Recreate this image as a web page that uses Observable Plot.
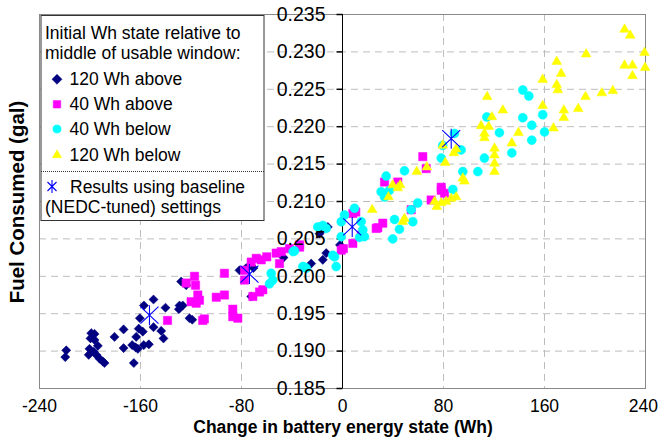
<!DOCTYPE html>
<html><head><meta charset="utf-8">
<script src="https://cdn.jsdelivr.net/npm/d3@7"></script>
<script src="https://cdn.jsdelivr.net/npm/@observablehq/plot@0.6"></script>
<style>body{margin:0;background:#fff}#chart{width:658px;height:439px}</style>
</head><body><div id="chart"></div>
<script>
// Series: [change in battery energy (Wh), fuel consumed (gal)]
const above120 = [[-218.8,0.1901],[-219.6,0.1892],[-199,0.1924],[-196.4,0.1923],[-199.6,0.1917],[-196.4,0.1915],[-200.4,0.1903],[-201,0.1895],[-197,0.1899],[-193.8,0.1907],[-195,0.1895],[-192.5,0.1890],[-189.8,0.1886],[-188.5,0.1884],[-180.6,0.1919],[-173.4,0.1929],[-173.4,0.1904],[-165.3,0.1884],[-166.6,0.1908],[-163.9,0.1905],[-162.1,0.1903],[-163.4,0.1919],[-161.4,0.1930],[-158.2,0.1926],[-157.4,0.1908],[-153.4,0.1909],[-160.5,0.1944],[-157.3,0.1961],[-149.7,0.1969],[-149.7,0.1932],[-143.6,0.1927],[-141.8,0.1917],[-140.2,0.1958],[-129.1,0.1961],[-129.6,0.1956],[-126.5,0.1961],[-121.2,0.1944],[-119,0.1942],[-127.8,0.1993],[-123.8,0.1988],[-81.6,0.2008],[-76.3,0.2011],[-70.5,0.2011],[-72.3,0.1973],[-46.7,0.2025],[-24.8,0.2017],[-15.6,0.2022],[-12.9,0.2031],[-15.6,0.2063],[-18.2,0.2057],[-11.6,0.2066],[-2,0.2042]];
const above40 = [[-117.2,0.2000],[-116.4,0.1988],[-123.8,0.1991],[-119.9,0.1966],[-115.9,0.1964],[-138.6,0.1941],[-114.6,0.1975],[-113.3,0.1968],[-110.7,0.1941],[-109.4,0.1943],[-100,0.1972],[-93.5,0.1975],[-93.5,0.2004],[-86.9,0.1956],[-86.9,0.1946],[-82.9,0.1944],[-77.6,0.2008],[-72.3,0.2019],[-68.3,0.2024],[-64.4,0.2022],[-60,0.2026],[-52.5,0.2031],[-48.5,0.2033],[-49.9,0.2017],[-42,0.2037],[-34,0.2039],[-63.1,0.1982],[-65.7,0.1979],[-71,0.1973],[-77.6,0.1995],[-1,0.2035],[0.7,0.2037],[8.2,0.2044],[8.2,0.2084],[10.5,0.2086],[14.8,0.2055],[26.7,0.2064],[31.9,0.2071],[28,0.2065],[54.4,0.2089],[33.3,0.2126],[43.8,0.2126],[63.6,0.2160],[66.3,0.2144],[70.2,0.2102],[78.2,0.2115],[80.8,0.2111],[78.2,0.2119],[-34,0.2042]];
const below40 = [[-55.2,0.1995],[-57.8,0.1990],[-56.5,0.2004],[-39.1,0.2033],[-31.4,0.2013],[-30.1,0.2012],[-28.7,0.2011],[-19.6,0.2066],[-15.6,0.2068],[-12.9,0.2064],[-7.7,0.2028],[-6.3,0.2026],[-5,0.2013],[-1,0.2073],[1.6,0.2082],[-1,0.2053],[9.5,0.2091],[14.8,0.2073],[16.1,0.2062],[13.5,0.2052],[17.4,0.2053],[34.6,0.2134],[30.6,0.2113],[33.3,0.2106],[37.2,0.2115],[49.1,0.2141],[41.2,0.2076],[45.1,0.2063],[39.8,0.2050],[54.4,0.2089],[55.7,0.2073],[59.6,0.2098],[78.2,0.2158],[79.4,0.2175],[88.7,0.2191],[94,0.2169],[95.3,0.2140],[107.2,0.2140],[112.4,0.2158],[114.3,0.2213],[124.3,0.2192],[134.1,0.2165],[142.8,0.2249],[147.6,0.2241],[142.8,0.2212],[149.9,0.2202],[149.9,0.2182],[158.6,0.2216],[160,0.2193],[87.4,0.2116],[-38,0.2034]];
const below120 = [[23.5,0.2089],[36.4,0.2106],[39.8,0.2122],[43.8,0.2118],[45.7,0.2122],[49.1,0.2077],[47.8,0.2073],[58.8,0.2140],[66.8,0.2146],[72.9,0.2100],[74.7,0.2093],[78.2,0.2098],[82.1,0.2100],[86.1,0.2104],[90,0.2106],[79.4,0.2175],[81.4,0.2152],[88.2,0.2165],[90,0.2170],[95.3,0.2131],[96.6,0.2127],[109.8,0.2201],[112.4,0.2191],[112.4,0.2185],[115.8,0.2200],[114.6,0.2240],[118.3,0.2213],[127,0.2222],[120.4,0.2171],[120.4,0.2162],[120.4,0.2151],[120.4,0.2140],[134.1,0.2178],[139.4,0.2192],[158.6,0.2263],[158.6,0.2228],[167.1,0.2198],[169.7,0.2287],[173.2,0.2271],[169.7,0.2256],[170.5,0.2249],[175.3,0.2222],[175.3,0.2212],[186.7,0.2224],[192.5,0.2240],[193,0.2297],[205.4,0.2245],[214.1,0.2248],[223.4,0.2330],[227.9,0.2322],[223.4,0.2282],[229.7,0.2282],[229.7,0.2268],[239.2,0.2299],[239.7,0.2279]];
const baseline = [[-152.9,0.1948],[-73.7,0.2003],[7.7,0.2066],[86.1,0.2184]];

const xTicks = [-240,-160,-80,0,80,160,240];
const yTicks = [0.185,0.190,0.195,0.200,0.205,0.210,0.215,0.220,0.225,0.230,0.235];
const xGrid = [-160,-80,80,160];
const yGrid = [0.190,0.195,0.200,0.205,0.210,0.215,0.220,0.225,0.230];
const legendTitle = ["Initial Wh state relative to","middle of usable window:"];
const seriesNames = ["120 Wh above","40 Wh above","40 Wh below","120 Wh below"];
const baselineName = ["Results using baseline","(NEDC-tuned) settings"];
const xTitle = "Change in battery energy state (Wh)";
const yTitle = "Fuel Consumed (gal)";

const rows = a => a.map(([x,y]) => ({x,y}));
const tickSym = {draw(ctx){ctx.moveTo(-6,0);ctx.lineTo(0,0);}};
const starSym = {draw(ctx,size){const r=Math.sqrt(size/Math.PI);ctx.moveTo(0,-r);ctx.lineTo(0,r);const a=r*0.9,b=r*0.85;ctx.moveTo(-a,-b);ctx.lineTo(a,b);ctx.moveTo(-a,b);ctx.lineTo(a,-b);}};
const FONT = "'Liberation Sans', Arial, sans-serif";
const lastX = xTicks[xTicks.length-1];

const plot = Plot.plot({
  width:658, height:439, marginLeft:39, marginRight:13, marginTop:14, marginBottom:51,
  x:{domain:[-240,240], axis:null},
  y:{domain:[0.185,0.235], axis:null},
  style:{fontFamily:FONT, background:"white", overflow:"visible", color:"black"},
  marks:[
    Plot.ruleX(xGrid,{stroke:"#bdbdbd", strokeDasharray:"7,5"}),
    Plot.ruleY(yGrid,{stroke:"#bdbdbd", strokeDasharray:"7,5"}),
    Plot.frame({stroke:"#888"}),
    Plot.ruleX([0],{stroke:"black"}),
    Plot.dot(yTicks,{x:0, y:d=>d, symbol:tickSym, stroke:"black", fill:"none"}),
    Plot.dot(rows(above120),{x:"x", y:"y", symbol:"diamond2", r:4.1, fill:"#000080", stroke:"#000080", strokeWidth:0.5}),
    Plot.dot(rows(above40),{x:"x", y:"y", symbol:"square", r:4.7, fill:"#FF00FF", stroke:"#FF00FF", strokeWidth:0.5}),
    Plot.dot(rows(below40),{x:"x", y:"y", symbol:"circle", r:4.5, fill:"#00FFFF", stroke:"#00FFFF", strokeWidth:0.5}),
    Plot.dot(rows(below120),{x:"x", y:"y", symbol:"triangle", r:3.6, fill:"#FFFF00", stroke:"#FFFF00", strokeWidth:0.5}),
    Plot.dot(rows(baseline),{x:"x", y:"y", symbol:starSym, r:10, fill:"none", stroke:"#0000FF", strokeWidth:1.1}),
    Plot.text(yTicks,{x:0, y:d=>d, text:d=>d.toFixed(3), textAnchor:"end", dx:-17, fontSize:19.5, fill:"black"}),
    Plot.text(xTicks.filter(d=>d!==lastX),{x:d=>d, frameAnchor:"bottom", dy:23, lineAnchor:"bottom", text:d=>String(d), fontSize:17.5, fill:"black"}),
    Plot.text([lastX],{x:d=>d, frameAnchor:"bottom", dy:23, dx:12.5, textAnchor:"end", lineAnchor:"bottom", text:d=>String(d), fontSize:17.5, fill:"black"})
  ]
});
document.getElementById("chart").appendChild(plot);

const svg = d3.select(plot);
svg.append("text").attr("x",343).attr("y",433).attr("text-anchor","middle")
  .style("font-family",FONT).style("font-weight","bold").style("font-size","17.5px").attr("fill","black").text(xTitle);
svg.append("text").attr("transform","translate(24,202) rotate(-90)").attr("text-anchor","middle")
  .style("font-family",FONT).style("font-weight","bold").style("font-size","20.5px").attr("fill","black").text(yTitle);

// Legend
const lg = svg.append("g").attr("text-anchor","start").style("font-family",FONT).style("font-size","17.5px");
lg.append("rect").attr("x",41).attr("y",15.5).attr("width",223).attr("height",205).attr("fill","white").attr("stroke","#333");
lg.append("line").attr("x1",41).attr("x2",264).attr("y1",171.5).attr("y2",171.5).attr("stroke","#333").attr("stroke-dasharray","1,1");
legendTitle.forEach((t,i)=>lg.append("text").attr("x",45).attr("y",[39,58.5][i]).attr("fill","black").text(t));
const syms = [
  {type:d3.symbolDiamond2,size:64,color:"#000080",cy:79.3},
  {type:d3.symbolSquare,size:56,color:"#FF00FF",cy:104.3},
  {type:d3.symbolCircle,size:52,color:"#00FFFF",cy:129},
  {type:d3.symbolTriangle,size:36,color:"#FFFF00",cy:155}
];
const baselines = [85,110,135,161];
seriesNames.forEach((t,i)=>{
  const s = syms[i];
  lg.append("path").attr("d",d3.symbol(s.type,s.size)()).attr("transform",`translate(57,${s.cy})`).attr("fill",s.color).attr("stroke",s.color).attr("stroke-width",0.5);
  lg.append("text").attr("x",69.5).attr("y",baselines[i]).attr("fill","black").text(t);
});
lg.append("path").attr("d","M0,-6.5L0,6.5M-4.5,-4.5L4.5,4.5M-4.5,4.5L4.5,-4.5").attr("transform","translate(52,186.5)").attr("stroke","#0000FF").attr("fill","none").attr("stroke-width",1.1);
lg.append("text").attr("x",70).attr("y",192.7).attr("fill","black").text(baselineName[0]);
lg.append("text").attr("x",45).attr("y",212.5).attr("fill","black").text(baselineName[1]);
</script>
</body></html>
